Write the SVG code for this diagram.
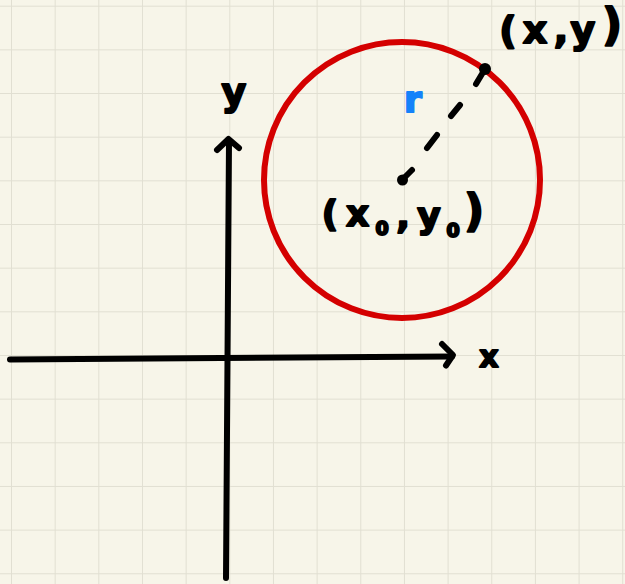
<svg xmlns="http://www.w3.org/2000/svg" width="625" height="584" viewBox="0 0 625 584">
  <defs>
    <pattern id="grid" x="11" y="5.7" width="43.66" height="43.66" patternUnits="userSpaceOnUse">
      <path d="M0 0 V43.66 M0 0 H43.66" fill="none" stroke="#e1dfd2" stroke-width="2"/>
    </pattern>
  </defs>
  <style>
    .ink { fill: none; stroke: #000; stroke-width: 6; stroke-linecap: round; stroke-linejoin: round; }
    .lbl { font-family: "DejaVu Sans", "Liberation Sans", sans-serif; font-weight: bold; fill: #000; stroke: #000; stroke-width: 2; stroke-linejoin: round; text-anchor: middle; }
    .circ { fill: none; stroke: #d40000; stroke-width: 6; }
    .dot { fill: #000; }
  </style>
  <rect x="0" y="0" width="625" height="584" fill="#f7f5e9"/>
  <rect x="0" y="0" width="625" height="584" fill="url(#grid)"/>

  <g id="connectors">
    <g id="y-axis">
      <path class="ink" d="M226 578 L229 141"/>
      <path class="ink" d="M217 150 L228.5 139 L239 148"/>
    </g>
    <g id="x-axis">
      <path class="ink" d="M10 359.5 L452 356.5"/>
      <path class="ink" d="M442 344 L453 355 L446 365.5"/>
    </g>
    <g id="radius">
      <path class="ink" d="M485 69 L476 84 M460 105 L451 116 M437 135 L427 148 M412 170 L402 180"/>
    </g>
  </g>

  <g id="circle">
    <circle class="circ" cx="402" cy="180" r="138"/>
  </g>

  <g id="center-point">
    <circle class="dot" cx="402.5" cy="180" r="5.5"/>
    <text class="lbl" font-size="36" y="226"><tspan x="330">(</tspan><tspan x="357.5">x</tspan><tspan x="382" y="235" font-size="19">0</tspan><tspan x="403" y="228">,</tspan><tspan x="429" y="228">y</tspan><tspan x="453" y="237" font-size="19">0</tspan><tspan x="474" y="226" font-size="44">)</tspan></text>
  </g>

  <g id="circle-point">
    <circle class="dot" cx="485" cy="69" r="6"/>
    <text class="lbl" font-size="38" y="43"><tspan x="508">(</tspan><tspan x="535">x</tspan><tspan x="561">,</tspan><tspan x="583">y</tspan><tspan x="612" y="40" font-size="44">)</tspan></text>
  </g>

  <g id="labels">
    <text class="lbl" font-size="38" x="234" y="105">y</text>
    <text class="lbl" font-size="30" x="489" y="367">x</text>
    <text class="lbl" font-size="36" x="413" y="112" style="fill:#1482fa;stroke:#1482fa">r</text>
  </g>
</svg>
